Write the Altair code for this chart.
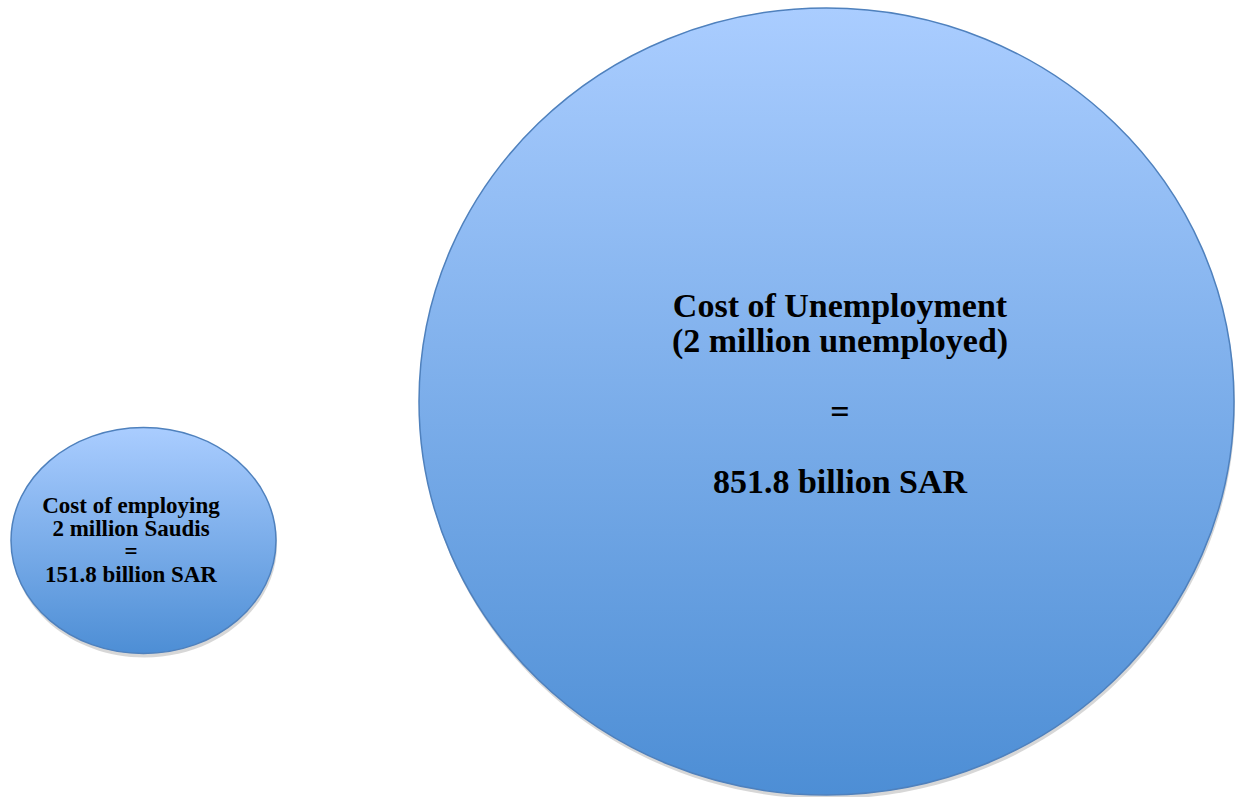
import altair as alt
import pandas as pd

# ---- data ----
categories = ["Cost of employing", "Cost of Unemployment"]
values_billion_sar = [151.8, 851.8]
people_million = [2, 2]
label_lines = [
    ["Cost of employing", "2 million Saudis", "=", "151.8 billion SAR"],
    ["Cost of Unemployment", "(2 million unemployed)", "", "=", "", "851.8 billion SAR"],
]

# ---- layout (canvas pixel coordinates) ----
W, H = 1236, 797
cx = [143.5, 826.5]
cy = [540.5, 401.5]
rx = [132.5, 407.5]
ry = [113.0, 393.5]
text_x = [131, 840]
text_y = [513, 317]
font_size = [23, 34]
line_h = [23, 35.2]


def ellipse_path(a):
    return f"M -1 0 A 1 {a:.4f} 0 1 1 1 0 A 1 {a:.4f} 0 1 1 -1 0 Z"


shapes = [ellipse_path(ry[i] / rx[i]) for i in range(2)]

df = pd.DataFrame({
    "name": categories,
    "value": values_billion_sar,
    "people": people_million,
    "cx": cx,
    "cy": cy,
    "size": [(2 * r) ** 2 for r in rx],
})

xs = alt.Scale(domain=[0, W], nice=False, zero=False)
ys = alt.Scale(domain=[0, H], nice=False, zero=False, reverse=True)
shape_enc = alt.Shape("name:N", scale=alt.Scale(domain=categories, range=shapes), legend=None)

base = alt.Chart(df)

shadow = base.mark_point(
    filled=True, color="#8c8c8c", opacity=0.35, xOffset=1, yOffset=4, strokeWidth=0
).encode(
    x=alt.X("cx:Q", scale=xs, axis=None),
    y=alt.Y("cy:Q", scale=ys, axis=None),
    size=alt.Size("size:Q", scale=None, legend=None),
    shape=shape_enc,
)

grad = alt.Gradient(
    gradient="linear",
    stops=[
        alt.GradientStop(offset=0, color="#aacdff"),
        alt.GradientStop(offset=1, color="#4d8ed5"),
    ],
    x1=0, x2=0, y1=0, y2=1,
)

ellipses = base.mark_point(
    fill=grad, stroke="#4f81bd", strokeWidth=1.5, opacity=1, fillOpacity=1
).encode(
    x=alt.X("cx:Q", scale=xs, axis=None),
    y=alt.Y("cy:Q", scale=ys, axis=None),
    size=alt.Size("size:Q", scale=None, legend=None),
    shape=shape_enc,
)

texts = []
for i in range(2):
    rows = pd.DataFrame({
        "line": label_lines[i],
        "idx": list(range(len(label_lines[i]))),
    })
    rows = rows[rows["line"] != ""]
    t = alt.Chart(rows).transform_calculate(
        tx=f"{text_x[i]}",
        ty=f"{text_y[i]} + datum.idx * {line_h[i]}",
    ).mark_text(
        font="Liberation Serif",
        fontWeight="bold",
        fontSize=font_size[i],
        align="center",
        baseline="alphabetic",
        color="#000000",
    ).encode(
        x=alt.X("tx:Q", scale=xs, axis=None),
        y=alt.Y("ty:Q", scale=ys, axis=None),
        text="line:N",
    )
    texts.append(t)

chart = alt.layer(shadow, ellipses, *texts).properties(
    width=W, height=H, padding=0, autosize="none", background="white"
).configure_view(stroke=None)

chart.save("out.html", embed_options={"renderer": "svg", "actions": False})
